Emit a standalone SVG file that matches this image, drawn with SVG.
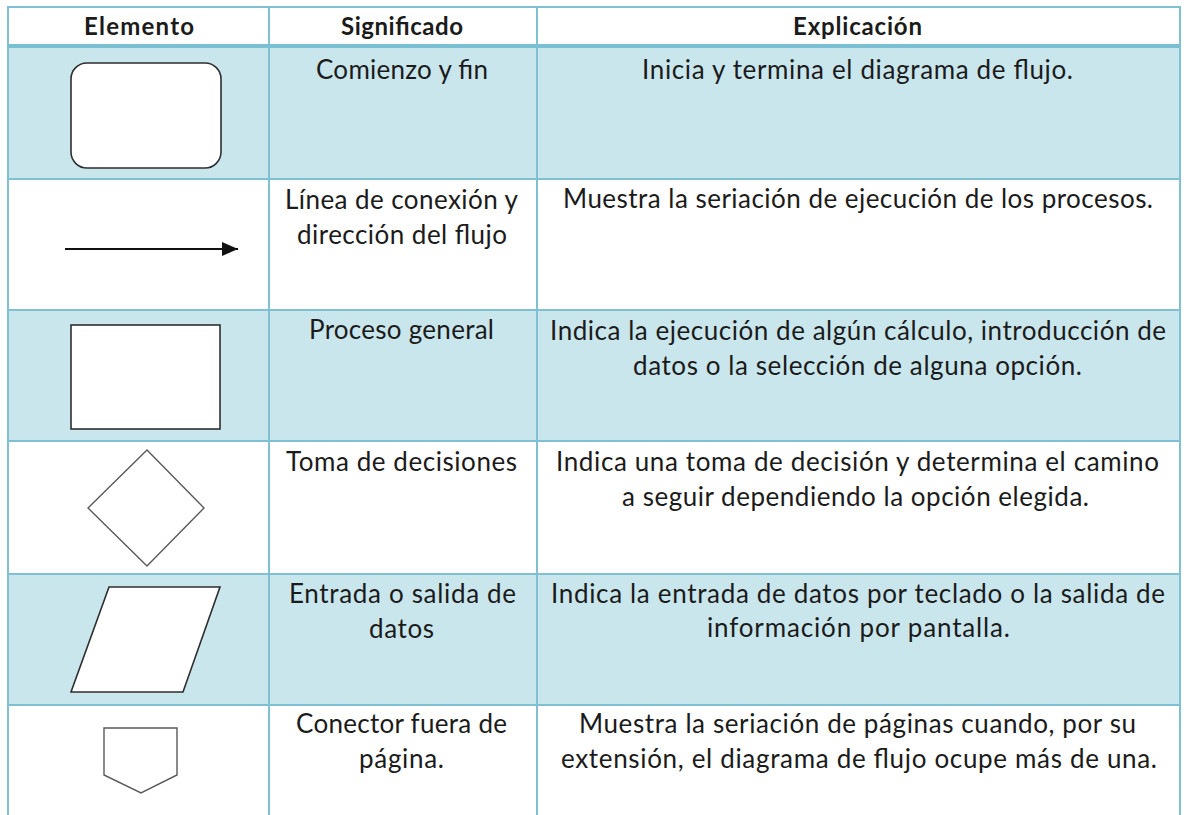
<svg xmlns="http://www.w3.org/2000/svg" width="1184" height="815" viewBox="0 0 1184 815">
<defs>
<style>
.t{font-family:Lato,"Open Sans","Liberation Sans",sans-serif;font-size:26px;fill:#1b1b1b;text-anchor:middle}
.h{font-weight:bold;font-size:24px}
.band{fill:#cae6ed}
.grid{stroke:#7fc1d3;stroke-width:2;fill:none}
.shape{fill:#ffffff;stroke:#2e2e2e;stroke-width:1.6}
.thin{fill:#ffffff;stroke:#5a5a5a;stroke-width:1.4}
</style>
<marker id="ah" viewBox="0 0 16 14" refX="16" refY="7" markerWidth="16" markerHeight="14" markerUnits="userSpaceOnUse" orient="auto">
<path d="M0,0 L16,7 L0,14 z" fill="#111"/>
</marker>
</defs>
<rect width="1184" height="815" fill="#ffffff"/>
<rect class="band" x="8" y="46" width="1172" height="132"/>
<rect class="band" x="8" y="310" width="1172" height="131"/>
<rect class="band" x="8" y="574" width="1172" height="131"/>
<g id="grid">
<line class="grid" x1="8" y1="7" x2="1180" y2="7"/>
<line class="grid" x1="8" y1="6" x2="8" y2="815"/>
<line class="grid" x1="1180" y1="6" x2="1180" y2="815"/>
<line class="grid" x1="269" y1="6" x2="269" y2="815"/>
<line class="grid" x1="537" y1="6" x2="537" y2="815"/>
<line x1="8" y1="46" x2="1180" y2="46" stroke="#7bbfd2" stroke-width="4"/>
<line class="grid" x1="8" y1="179" x2="1180" y2="179"/>
<line class="grid" x1="8" y1="310" x2="1180" y2="310"/>
<line class="grid" x1="8" y1="441" x2="1180" y2="441"/>
<line class="grid" x1="8" y1="574" x2="1180" y2="574"/>
<line class="grid" x1="8" y1="705" x2="1180" y2="705"/>
</g>
<g id="header">
<text class="t h" x="139" y="35" textLength="110">Elemento</text>
<text class="t h" x="402" y="35" textLength="122">Significado</text>
<text class="t h" x="857.5" y="35" textLength="129">Explicación</text>
</g>
<g id="row-comienzo">
<rect class="shape" x="71" y="63" width="150" height="105" rx="16" ry="16"/>
<text class="t" x="402" y="79" textLength="172">Comienzo y fin</text>
<text class="t" x="857.5" y="79" textLength="431">Inicia y termina el diagrama de flujo.</text>
</g>
<g id="row-linea">
<g id="connectors">
<line x1="65" y1="249" x2="238" y2="249" stroke="#111" stroke-width="1.8" marker-end="url(#ah)"/>
</g>
<text class="t" x="401.5" y="209" textLength="233">Línea de conexión y</text>
<text class="t" x="402" y="244" textLength="210">dirección del flujo</text>
<text class="t" x="858" y="208" textLength="590">Muestra la seriación de ejecución de los procesos.</text>
</g>
<g id="row-proceso">
<rect class="shape" x="71" y="325" width="149" height="104"/>
<text class="t" x="401.5" y="339" textLength="185">Proceso general</text>
<text class="t" x="858" y="340" textLength="616">Indica la ejecución de algún cálculo, introducción de</text>
<text class="t" x="857.5" y="375" textLength="449">datos o la selección de alguna opción.</text>
</g>
<g id="row-decision">
<polygon class="thin" points="147,450 204,508 147,566 88,508"/>
<text class="t" x="401.5" y="471" textLength="231">Toma de decisiones</text>
<text class="t" x="857.5" y="471" textLength="603">Indica una toma de decisión y determina el camino</text>
<text class="t" x="855.5" y="506" textLength="467">a seguir dependiendo la opción elegida.</text>
</g>
<g id="row-entrada">
<polygon class="shape" points="109,587 220,587 183,692 71,692"/>
<text class="t" x="402.5" y="603" textLength="227">Entrada o salida de</text>
<text class="t" x="401.5" y="638" textLength="65">datos</text>
<text class="t" x="858" y="603" textLength="614">Indica la entrada de datos por teclado o la salida de</text>
<text class="t" x="858.5" y="637" textLength="303">información por pantalla.</text>
</g>
<g id="row-conector">
<polygon class="thin" points="104,728 177,728 177,775 141,793 104,775"/>
<text class="t" x="401.5" y="733" textLength="211">Conector fuera de</text>
<text class="t" x="401.5" y="768" textLength="85">página.</text>
<text class="t" x="857.5" y="733" textLength="557">Muestra la seriación de páginas cuando, por su</text>
<text class="t" x="859" y="768" textLength="596">extensión, el diagrama de flujo ocupe más de una.</text>
</g>
</svg>
